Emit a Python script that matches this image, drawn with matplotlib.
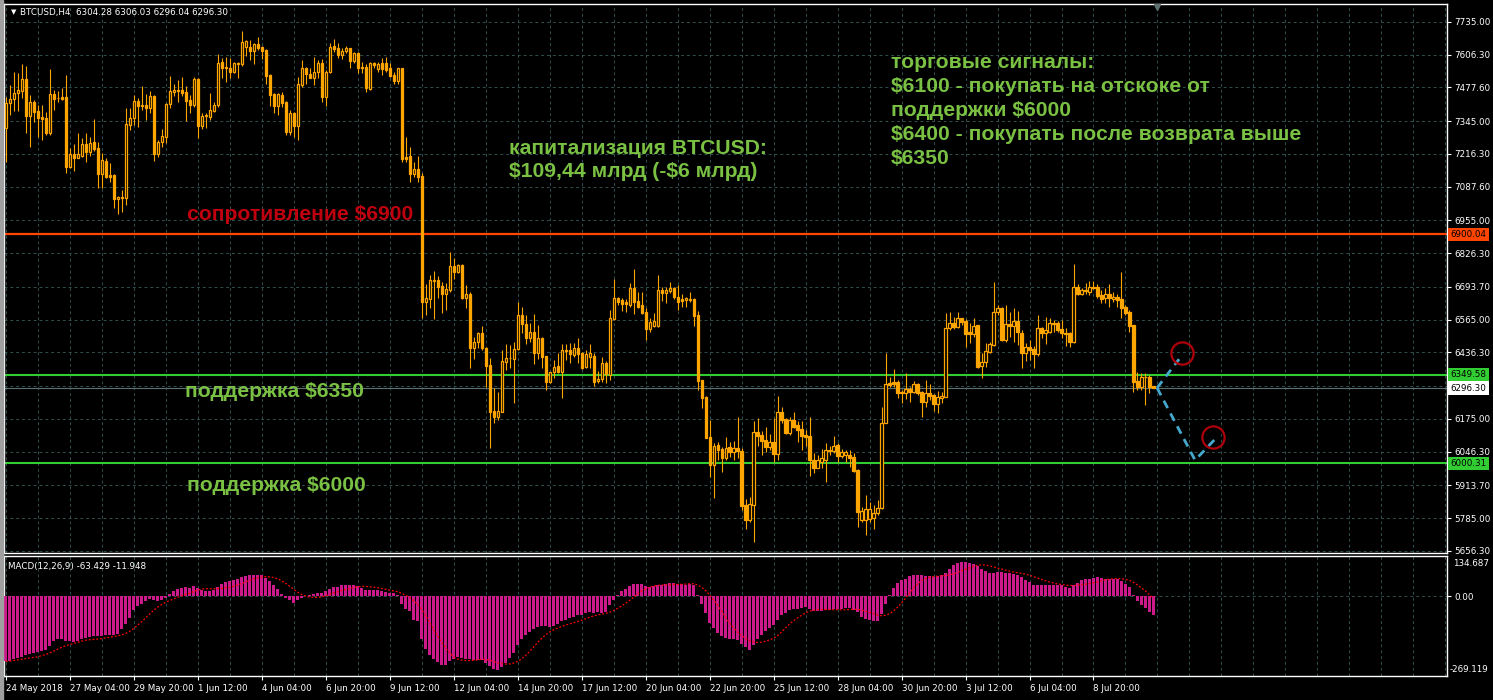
import numpy as np
import pandas as pd
import matplotlib
matplotlib.use('Agg')
import matplotlib.pyplot as plt
import matplotlib.transforms as mtransforms
from matplotlib.patches import Rectangle

# BTCUSD H4 свечи (24 May 2018 ... 11 Jul 2018)
opens = [
    7317, 7415, 7432, 7457, 7465, 7511, 7367, 7419, 7385, 7361,
    7356, 7297, 7451, 7437, 7441, 7441, 7166, 7215, 7202, 7209,
    7255, 7225, 7262, 7238, 7136, 7189, 7134, 7134, 7038, 7047,
    7042, 7330, 7356, 7424, 7406, 7409, 7396, 7444, 7216, 7262,
    7284, 7411, 7461, 7468, 7468, 7461, 7428, 7409, 7511, 7327,
    7367, 7363, 7386, 7409, 7576, 7557, 7555, 7537, 7572, 7568,
    7638, 7638, 7621, 7648, 7635, 7625, 7527, 7453, 7406, 7448,
    7422, 7301, 7376, 7327, 7487, 7555, 7529, 7516, 7537, 7575,
    7441, 7537, 7640, 7634, 7605, 7621, 7631, 7583, 7614, 7559,
    7559, 7471, 7572, 7550, 7572, 7572, 7553, 7527, 7503, 7553,
    7206, 7208, 7136, 7157, 7130, 6636, 6646, 6717, 6721, 6697,
    6665, 6682, 6777, 6754, 6780, 6651, 6666, 6455, 6476, 6514,
    6455, 6387, 6206, 6184, 6203, 6400, 6413, 6410, 6450, 6583,
    6548, 6494, 6518, 6433, 6492, 6422, 6321, 6358, 6382, 6361,
    6446, 6446, 6426, 6452, 6433, 6380, 6420, 6422, 6325, 6332,
    6393, 6348, 6568, 6651, 6642, 6636, 6623, 6688, 6638, 6623,
    6596, 6528, 6541, 6541, 6682, 6671, 6679, 6688, 6655, 6646,
    6642, 6646, 6646, 6583, 6328, 6262, 6105, 5994, 6072, 6057,
    6023, 6066, 6046, 6059, 6049, 5837, 5778, 5837, 6122, 6112,
    6092, 6066, 6086, 6036, 6203, 6173, 6118, 6171, 6151, 6135,
    6112, 6109, 6014, 5983, 6007, 6014, 6049, 6049, 6072, 6031,
    6033, 6033, 6025, 5974, 5778, 5778, 5782, 5787, 5804, 5824,
    6158, 6315, 6319, 6319, 6282, 6276, 6293, 6279, 6311, 6279,
    6240, 6276, 6269, 6232, 6259, 6262, 6531, 6551, 6537, 6570,
    6560, 6515, 6507, 6544, 6384, 6397, 6437, 6465, 6594, 6610,
    6485, 6547, 6541, 6560, 6511, 6433, 6459, 6450, 6429, 6531,
    6511, 6518, 6553, 6553, 6528, 6511, 6511, 6476, 6695, 6665,
    6682, 6675, 6695, 6695, 6662, 6649, 6665, 6646, 6655, 6646,
    6616, 6596, 6544, 6324, 6302, 6338, 6341, 6304.28,
]
highs = [
    7441, 7487, 7540, 7533, 7568, 7563, 7448, 7428, 7409, 7409,
    7380, 7550, 7468, 7464, 7474, 7527, 7238, 7255, 7297, 7278,
    7297, 7284, 7354, 7262, 7219, 7199, 7179, 7136, 7052, 7075,
    7396, 7396, 7448, 7435, 7483, 7451, 7464, 7448, 7271, 7314,
    7415, 7523, 7490, 7507, 7520, 7483, 7448, 7520, 7513, 7376,
    7376, 7454, 7422, 7608, 7592, 7599, 7595, 7579, 7579, 7699,
    7664, 7664, 7651, 7677, 7642, 7629, 7529, 7454, 7454, 7461,
    7424, 7389, 7382, 7520, 7585, 7559, 7553, 7599, 7585, 7588,
    7546, 7651, 7668, 7651, 7634, 7642, 7634, 7618, 7618, 7579,
    7568, 7579, 7579, 7579, 7595, 7599, 7572, 7540, 7555, 7555,
    7284, 7245, 7186, 7209, 7140, 6704, 6741, 6756, 6738, 6714,
    6708, 6830, 6806, 6782, 6782, 6701, 6675, 6498, 6518, 6540,
    6459, 6413, 6295, 6282, 6446, 6468, 6465, 6479, 6636, 6616,
    6583, 6551, 6586, 6544, 6498, 6423, 6361, 6406, 6433, 6468,
    6468, 6472, 6472, 6494, 6437, 6446, 6468, 6433, 6363, 6420,
    6403, 6603, 6725, 6655, 6651, 6646, 6708, 6763, 6675, 6675,
    6610, 6573, 6590, 6741, 6695, 6695, 6712, 6695, 6701, 6665,
    6655, 6675, 6651, 6599, 6328, 6265, 6171, 6079, 6086, 6066,
    6105, 6086, 6088, 6184, 6059, 5860, 5869, 6167, 6177, 6127,
    6145, 6115, 6180, 6266, 6223, 6180, 6184, 6203, 6167, 6167,
    6131, 6184, 6040, 6033, 6057, 6079, 6070, 6109, 6079, 6057,
    6053, 6053, 6040, 5978, 5830, 5876, 5847, 5837, 5856, 6223,
    6433, 6341, 6371, 6328, 6289, 6354, 6302, 6324, 6315, 6285,
    6328, 6311, 6272, 6285, 6282, 6590, 6596, 6577, 6594, 6573,
    6568, 6551, 6570, 6544, 6433, 6472, 6479, 6714, 6623, 6616,
    6623, 6594, 6610, 6599, 6524, 6472, 6485, 6463, 6583, 6537,
    6577, 6570, 6564, 6560, 6564, 6531, 6515, 6782, 6704, 6688,
    6708, 6717, 6717, 6704, 6682, 6688, 6704, 6675, 6665, 6751,
    6623, 6603, 6544, 6358, 6354, 6354, 6348, 6306.03,
]
lows = [
    7186, 7369, 7385, 7385, 7437, 7297, 7245, 7343, 7282, 7271,
    7291, 7291, 7389, 7422, 7428, 7140, 7160, 7151, 7199, 7206,
    7186, 7209, 7228, 7081, 7084, 7120, 7107, 7003, 6979, 6987,
    7016, 7310, 7330, 7323, 7389, 7350, 7376, 7189, 7206, 7245,
    7258, 7396, 7445, 7422, 7445, 7346, 7376, 7402, 7278, 7314,
    7317, 7350, 7380, 7402, 7513, 7498, 7513, 7533, 7513, 7563,
    7602, 7585, 7570, 7625, 7589, 7490, 7406, 7376, 7369, 7402,
    7291, 7291, 7284, 7271, 7481, 7490, 7513, 7487, 7513, 7422,
    7406, 7533, 7618, 7592, 7589, 7612, 7553, 7572, 7536, 7533,
    7461, 7468, 7553, 7540, 7527, 7540, 7520, 7491, 7491, 7186,
    7186, 7105, 7127, 7107, 6570, 6583, 6612, 6568, 6651, 6590,
    6603, 6675, 6725, 6747, 6646, 6612, 6374, 6410, 6452, 6446,
    6302, 6059, 6158, 6171, 6201, 6367, 6374, 6239, 6446, 6511,
    6468, 6479, 6389, 6410, 6376, 6289, 6315, 6334, 6354, 6256,
    6406, 6393, 6420, 6393, 6371, 6374, 6374, 6306, 6315, 6321,
    6315, 6328, 6564, 6623, 6599, 6597, 6616, 6586, 6612, 6586,
    6485, 6518, 6537, 6537, 6638, 6629, 6669, 6646, 6603, 6616,
    6616, 6633, 6541, 6289, 6219, 6099, 5948, 5865, 6014, 5965,
    6014, 6027, 6014, 6020, 5817, 5742, 5771, 5693, 6070, 6033,
    6044, 6053, 6007, 6014, 6158, 6114, 6112, 6138, 6086, 6053,
    6070, 5952, 5961, 5981, 5981, 5928, 6033, 6040, 6007, 6020,
    6007, 5987, 5968, 5751, 5771, 5719, 5771, 5742, 5797, 5821,
    6158, 6302, 6302, 6256, 6236, 6253, 6240, 6276, 6269, 6184,
    6223, 6249, 6206, 6197, 6236, 6262, 6524, 6528, 6531, 6544,
    6459, 6472, 6498, 6376, 6334, 6380, 6433, 6463, 6583, 6481,
    6479, 6498, 6479, 6465, 6376, 6403, 6406, 6376, 6423, 6492,
    6468, 6511, 6515, 6515, 6492, 6463, 6459, 6472, 6662, 6662,
    6665, 6662, 6685, 6651, 6629, 6629, 6616, 6636, 6616, 6573,
    6583, 6518, 6280, 6289, 6289, 6230, 6276, 6296.04,
]
closes = [
    7415, 7432, 7457, 7468, 7511, 7367, 7419, 7382, 7359, 7354,
    7300, 7451, 7432, 7435, 7432, 7166, 7215, 7202, 7215, 7255,
    7225, 7258, 7236, 7136, 7192, 7127, 7126, 7038, 7047, 7042,
    7333, 7356, 7424, 7406, 7409, 7396, 7444, 7216, 7262, 7287,
    7413, 7464, 7468, 7464, 7457, 7426, 7409, 7511, 7327, 7367,
    7369, 7389, 7409, 7572, 7555, 7553, 7537, 7572, 7568, 7655,
    7660, 7621, 7648, 7634, 7621, 7524, 7448, 7406, 7451, 7415,
    7304, 7376, 7327, 7490, 7555, 7529, 7516, 7537, 7575, 7441,
    7540, 7638, 7629, 7605, 7621, 7631, 7583, 7614, 7553, 7553,
    7474, 7572, 7566, 7568, 7550, 7546, 7524, 7504, 7553, 7195,
    7195, 7136, 7157, 7127, 6636, 6649, 6721, 6721, 6695, 6665,
    6686, 6777, 6754, 6780, 6651, 6665, 6455, 6476, 6514, 6452,
    6384, 6203, 6184, 6206, 6403, 6413, 6416, 6450, 6583, 6547,
    6494, 6518, 6433, 6492, 6420, 6321, 6358, 6380, 6361, 6446,
    6443, 6429, 6452, 6429, 6376, 6429, 6433, 6321, 6332, 6393,
    6350, 6570, 6651, 6636, 6625, 6625, 6688, 6636, 6616, 6590,
    6528, 6557, 6560, 6682, 6669, 6682, 6688, 6655, 6636, 6638,
    6649, 6642, 6581, 6324, 6258, 6101, 5994, 6070, 6053, 6023,
    6062, 6046, 6059, 6049, 5834, 5778, 5839, 6125, 6109, 6088,
    6066, 6086, 6036, 6201, 6171, 6118, 6171, 6145, 6131, 6109,
    6105, 6014, 5983, 6014, 6020, 6053, 6053, 6070, 6031, 6044,
    6046, 6023, 5970, 5811, 5813, 5821, 5821, 5804, 5824, 6158,
    6311, 6308, 6311, 6276, 6276, 6293, 6279, 6311, 6276, 6240,
    6276, 6266, 6232, 6262, 6266, 6534, 6551, 6537, 6570, 6557,
    6507, 6507, 6541, 6380, 6397, 6442, 6468, 6594, 6610, 6485,
    6547, 6541, 6560, 6515, 6433, 6459, 6446, 6429, 6531, 6511,
    6524, 6551, 6547, 6524, 6511, 6508, 6476, 6695, 6665, 6682,
    6678, 6695, 6688, 6659, 6646, 6665, 6649, 6655, 6642, 6612,
    6590, 6541, 6321, 6302, 6341, 6341, 6302, 6296.30,
]
# MACD(12,26,9) main line (histogram in MT4)
macd_main = [
    -220, -218, -213, -209, -204, -200, -195, -192, -188, -185,
    -182, -168, -153, -144, -146, -150, -153, -155, -150, -146,
    -141, -138, -136, -135, -135, -132, -132, -130, -127, -110,
    -93, -74, -48, -34, -26, -16, -11, -15, -18, -15,
    -7, 7, 16, 22, 27, 29, 27, 34, 27, 20,
    18, 18, 20, 29, 40, 47, 50, 54, 58, 63,
    67, 70, 72, 72, 70, 61, 49, 36, 22, 8,
    -7, -15, -22, -15, -7, 0, 4, 8, 11, 11,
    16, 22, 29, 31, 36, 38, 38, 38, 34, 27,
    20, 19, 19, 19, 16, 13, 11, 9, 4, -26,
    -45, -49, -82, -85, -144, -177, -197, -211, -222, -231,
    -231, -220, -213, -206, -209, -211, -213, -215, -215, -215,
    -224, -236, -245, -249, -238, -224, -209, -191, -166, -146,
    -132, -121, -112, -105, -102, -101, -103, -101, -94, -85,
    -79, -74, -70, -65, -63, -57, -54, -56, -54, -56,
    -54, -31, -15, 4, 16, 25, 34, 42, 42, 42,
    34, 31, 34, 36, 38, 42, 45, 45, 42, 42,
    38, 42, 38, 2, -26, -56, -90, -108, -123, -135,
    -141, -146, -146, -149, -160, -172, -180, -166, -146, -132,
    -119, -107, -96, -81, -65, -56, -48, -45, -43, -40,
    -37, -43, -49, -52, -52, -48, -46, -44, -43, -42,
    -40, -40, -46, -54, -70, -76, -82, -85, -85, -59,
    -26, 4, 27, 45, 53, 58, 67, 70, 72, 70,
    67, 66, 64, 66, 71, 76, 90, 103, 111, 114,
    114, 112, 109, 101, 90, 83, 79, 79, 81, 81,
    79, 79, 75, 70, 63, 55, 47, 38, 38, 38,
    38, 38, 38, 36, 36, 30, 27, 38, 45, 53,
    56, 58, 61, 63, 59, 58, 58, 57, 56, 52,
    42, 29, 2, -18, -31, -39, -54, -63.429,
]

date_labels = ['24 May 2018', '27 May 04:00', '29 May 20:00', '1 Jun 12:00',
               '4 Jun 04:00', '6 Jun 20:00', '9 Jun 12:00', '12 Jun 04:00',
               '14 Jun 20:00', '17 Jun 12:00', '20 Jun 04:00', '22 Jun 20:00',
               '25 Jun 12:00', '28 Jun 04:00', '30 Jun 20:00', '3 Jul 12:00',
               '6 Jul 04:00', '8 Jul 20:00']
price_ticks = [7735.00, 7606.30, 7477.60, 7345.00, 7216.30, 7087.60, 6955.00,
               6826.30, 6693.70, 6565.00, 6436.30, 6175.00, 6046.30, 5913.70,
               5785.00, 5656.30]
resistance = 6900.04
support_hi = 6349.58
support_lo = 6000.31
last_price = 6296.30

# сценарий (стрелки и круги справа)
scen_up_bar = [287.9, 293.4]
scen_up_price = [6297, 6410]
scen_dn_bar = [287.9, 297.4, 302.9]
scen_dn_price = [6297, 6013, 6104]
target_bar = [294.1, 301.8]
target_price = [6433, 6105]

GREEN_TXT = '#7AC143'
RED_TXT = '#C0000F'
ORANGE = '#FFA500'
GRID = '#2F4F4F'

plt.rcParams['font.family'] = ['DejaVu Sans']

fig = plt.figure(figsize=(14.93, 7), dpi=100, facecolor='black')
W, H = 1493, 700
fig.patches.append(Rectangle((0, 0), 2.5 / W, 1, transform=fig.transFigure,
                             color='#A0A0A0', zorder=0))
ax = fig.add_axes([4 / W, (H - 553) / H, 1443 / W, 549 / H], facecolor='black')
axm = fig.add_axes([4 / W, (H - 676) / H, 1443 / W, 120 / H], facecolor='black', sharex=ax)

x = np.arange(len(closes))
o = np.array(opens, dtype=float)
h = np.array(highs, dtype=float)
l = np.array(lows, dtype=float)
c = np.array(closes, dtype=float)

# сетка
xmin, xmax = -0.45, 360.4
for gx in np.arange(0, xmax, 8):
    ax.axvline(gx, color=GRID, lw=0.7, ls=(0, (3, 3)), zorder=1)
    axm.axvline(gx, color=GRID, lw=0.7, ls=(0, (3, 3)), zorder=1)
for gy in price_ticks + [6305.6]:
    ax.axhline(gy, color=GRID, lw=0.7, ls=(0, (3, 3)), zorder=1)
axm.axhline(0, color=GRID, lw=0.7, ls=(0, (3, 3)), zorder=1)

# уровни
ax.axhline(resistance, color='#FF4500', lw=1.6, zorder=2)
ax.axhline(support_hi, color='#32CD32', lw=1.5, zorder=2)
ax.axhline(support_lo, color='#32CD32', lw=1.5, zorder=2)
ax.axhline(last_price, color='#5F7070', lw=0.8, zorder=2)

# свечи
up = c >= o
lo_b = np.minimum(o, c)
hi_b = np.maximum(o, c)
ax.vlines(x, l, h, color=ORANGE, lw=0.8, zorder=3)
ax.bar(x[up], (hi_b - lo_b)[up], bottom=lo_b[up], width=0.55, color='black',
       edgecolor=ORANGE, lw=0.9, zorder=4)
ax.bar(x[~up], (hi_b - lo_b)[~up], bottom=lo_b[~up], width=0.55, color=ORANGE,
       edgecolor=ORANGE, lw=0.9, zorder=4)

# сценарий
ax.plot(scen_up_bar, scen_up_price, color='#45A8CC', lw=2, ls=(0, (3, 2.2)), zorder=5)
ax.plot(scen_dn_bar, scen_dn_price, color='#45A8CC', lw=2, ls=(0, (3, 2.2)), zorder=5)
ax.plot(target_bar, target_price, ls='none', marker='o', ms=16, mfc='none',
        mec='#B0000A', mew=1.6, zorder=6)

# тексты
bold = dict(family='Liberation Sans', weight='bold', fontsize=15.2,
            va='baseline', parse_math=False)
ax.text(45.3, 6957, 'сопротивление $6900', color=RED_TXT, **bold)
ax.text(44.7, 6261, 'поддержка $6350', color=GREEN_TXT, **bold)
ax.text(45.2, 5892, 'поддержка $6000', color=GREEN_TXT, **bold)
ax.text(125.8, 7216, 'капитализация BTCUSD:', color=GREEN_TXT, **bold)
ax.text(125.8, 7126, '$109,44 млрд (-$6 млрд)', color=GREEN_TXT, **bold)
signals = ['торговые сигналы:', '$6100 - покупать на отскоке от', 'поддержки $6000',
           '$6400 - покупать после возврата выше', '$6350']
for k, line in enumerate(signals):
    ax.text(221.4, 7554 - k * 94.3, line, color=GREEN_TXT, **bold)

# оси
ax.set_xlim(xmin, xmax)
ax.set_ylim(5648.2, 7805.7)
ax.yaxis.tick_right()
ax.set_yticks(price_ticks)
ax.set_yticklabels([f'{v:.2f}' for v in price_ticks])
ax.tick_params(axis='y', colors='white', labelcolor='white', labelsize=6.3,
               length=3, width=0.8, pad=2)
ax.tick_params(axis='x', bottom=False, labelbottom=False)

trans = mtransforms.blended_transform_factory(ax.transAxes, ax.transData)
for val, bg in [(resistance, '#FF4500'), (support_hi, '#32CD32'),
                (last_price, 'white'), (support_lo, '#32CD32')]:
    ax.text(1.0025, val, f'{val:.2f}', transform=trans, ha='left', va='center',
            fontsize=6.3, color='black', clip_on=False, zorder=10,
            bbox=dict(boxstyle='square,pad=0.25', fc=bg, ec='none'))

# отметка сдвига графика
tr_top = mtransforms.blended_transform_factory(ax.transData, ax.transAxes)
ax.plot([288], [0.994], transform=tr_top, marker='v', ms=5, color='#5F7070',
        clip_on=False, zorder=7)

# MACD
macd = np.array(macd_main, dtype=float)
signal = pd.Series(macd).rolling(9, min_periods=1).mean()
axm.bar(x, macd, width=0.72, color='#CC1A8A', zorder=3)
axm.plot(x, signal, color='red', lw=0.9, ls=(0, (1.5, 1.5)), zorder=4)
axm.set_ylim(-269.119, 134.687)
axm.yaxis.tick_right()
axm.set_yticks([0])
axm.set_yticklabels(['0.00'])
axm.tick_params(axis='y', colors='white', labelcolor='white', labelsize=6.3,
                length=3, width=0.8, pad=2)
axm.text(1.004, 0.94, '134.687', transform=axm.transAxes, color='white',
         fontsize=6.3, ha='left', va='center')
axm.text(1.0015, 0.05, '-269.119', transform=axm.transAxes, color='white',
         fontsize=6.3, ha='left', va='center')
axm.text(0.003, 0.915, 'MACD(12,26,9) -63.429 -11.948', transform=axm.transAxes,
         color='white', fontsize=6.3, ha='left', va='center')

axm.set_xticks(np.arange(len(date_labels)) * 16)
axm.set_xticklabels(date_labels)
axm.tick_params(axis='x', colors='white', labelcolor='white', labelsize=6.3,
                length=3, width=0.8, pad=2.5)
for lab in axm.get_xticklabels():
    lab.set_ha('left')

for a in (ax, axm):
    for sp in a.spines.values():
        sp.set_color('white')
        sp.set_linewidth(1)

fig.text(11 / W, 1 - 12.5 / H, '▼', color='white', fontsize=5, va='center')
fig.text(20 / W, 1 - 12.5 / H, 'BTCUSD,H4  6304.28 6306.03 6296.04 6296.30',
         color='white', fontsize=6.3, va='center')

fig.savefig('out.png', dpi=100, facecolor='black')
